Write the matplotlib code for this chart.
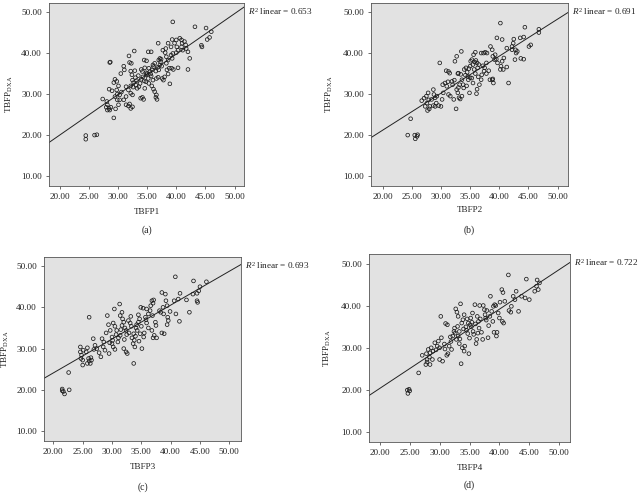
import matplotlib
matplotlib.use("Agg")
import matplotlib.pyplot as plt
import numpy as np

plt.rcParams['font.family'] = ['Liberation Serif', 'DejaVu Serif']
plt.rcParams['mathtext.fontset'] = 'custom'
plt.rcParams['mathtext.rm'] = 'Liberation Serif'
plt.rcParams['mathtext.it'] = 'Liberation Serif:italic'

# ---------------- data ----------------
pts_a = [(24.5,19.9),(24.5,19.0),(26.0,20.0),(26.4,20.1),(27.4,28.8),(28.6,37.7),(28.7,37.8),
 (28.5,31.2),(29.0,30.8),(28.1,28.2),(28.2,27.4),(28.5,26.5),(28.6,26.1),(28.2,26.1),(28.8,26.8),
 (28.0,26.8),(29.3,24.2),(29.6,26.4),(29.5,33.6),(29.8,33.1),(29.3,32.8),(30.1,32.0),(29.8,31.0),
 (30.3,29.8),(29.9,30.0),(29.5,29.4),(30.6,30.5),(30.1,27.4),(29.9,28.6),(30.5,35.0),(31.0,36.8),
 (31.1,35.9),(31.4,29.4),(31.0,28.6),(31.4,27.4),(31.8,27.1),(32.0,27.6),(31.8,31.0),(31.4,31.8),
 (32.2,32.0),(31.9,39.3),(32.0,37.7),(32.3,37.5),(32.2,35.6),(32.9,35.7),(32.8,40.5),(32.4,34.7),
 (32.5,33.4),(32.7,32.8),(33.2,33.3),(33.1,32.2),(32.6,31.7),(33.3,31.4),(33.6,31.8),(32.2,30.2),
 (32.5,29.8),(32.5,26.9),(32.2,26.5),(33.8,32.6),(34.0,33.6),(34.3,34.2),(34.2,35.5),(33.9,29.0),
 (34.2,29.2),(34.4,28.7),(34.6,36.4),(34.8,35.2),(34.9,34.7),(35.2,33.8),(34.5,38.3),(34.9,38.1),
 (34.8,33.0),(34.6,31.4),(35.2,40.3),(35.7,40.3),(35.5,35.5),(35.6,34.9),(35.9,35.9),(35.7,34.4),
 (35.3,36.3),(36.0,37.1),(36.3,37.5),(36.1,36.7),(35.3,32.6),(35.8,32.0),(36.1,31.2),(36.3,30.6),
 (36.6,29.8),(36.5,29.2),(36.7,28.7),(36.0,33.4),(36.6,33.8),(36.9,34.1),(37.0,38.3),(37.2,38.7),
 (37.3,37.9),(37.4,38.5),(37.2,37.1),(36.9,42.4),(36.5,35.6),(37.0,35.9),(37.6,33.8),(37.8,33.4),
 (38.0,34.2),(37.7,40.7),(38.1,40.1),(38.2,41.1),(38.3,39.1),(38.6,38.3),(38.3,37.5),(38.4,35.9),
 (38.8,36.3),(38.6,34.9),(38.9,32.5),(39.1,39.5),(39.3,38.7),(39.4,39.9),(39.2,36.3),(39.5,36.0),
 (39.4,47.6),(39.3,43.3),(39.7,42.4),(40.0,43.2),(40.1,41.5),(40.3,40.7),(40.0,40.1),(40.3,36.4),
 (40.6,43.6),(40.9,43.2),(41.0,42.4),(40.9,41.5),(41.1,40.7),(41.4,42.8),(41.6,42.0),(41.7,41.1),
 (42.0,40.3),(42.0,36.0),(42.3,38.7),(43.2,46.4),(44.3,41.9),(44.4,41.5),(45.1,46.1),(45.3,43.3),
 (45.7,43.8),(46.0,45.2),(39.1,41.5),(38.6,42.4),(30.3,28.6),(33.5,34.5),(34.0,36.0),(35.0,35.0),
 (36.8,36.5),(37.5,36.8),(33.0,34.0),(34.5,33.2)]

pts_b = [(24.3,20.0),(25.5,20.0),(25.9,19.7),(25.6,19.1),(26.0,20.1),(24.8,24.0),(26.7,28.4),
 (27.1,29.0),(27.3,27.0),(27.6,27.8),(27.9,28.6),(27.7,26.0),(28.0,26.4),(28.1,27.0),(27.5,29.5),
 (27.8,30.3),(28.7,31.1),(28.4,28.7),(28.8,29.9),(29.0,29.1),(29.3,29.5),(29.2,27.8),(29.6,27.2),
 (28.7,27.2),(29.0,27.0),(29.8,37.6),(30.0,27.0),(30.2,28.7),(30.4,30.3),(30.3,32.3),(30.9,35.7),
 (31.3,35.5),(31.5,35.1),(30.7,32.7),(31.0,31.9),(31.3,29.9),(31.6,29.5),(31.9,33.1),(32.0,32.3),
 (32.2,28.7),(32.4,38.0),(32.7,39.2),(32.9,35.0),(33.0,35.1),(32.6,26.4),(32.7,31.1),(32.9,30.3),
 (33.2,32.3),(33.1,29.1),(33.6,29.5),(33.3,28.8),(33.5,40.4),(33.6,33.5),(33.8,32.3),(33.9,31.5),
 (34.0,36.0),(34.3,36.4),(34.5,35.3),(34.6,34.3),(34.7,33.5),(35.0,36.8),(35.1,38.0),(35.3,38.4),
 (35.5,37.2),(35.3,33.9),(35.5,32.7),(35.7,36.0),(35.9,35.0),(34.9,30.3),(36.1,30.1),(36.2,31.2),
 (35.6,39.6),(35.9,40.2),(36.2,37.6),(36.5,37.2),(36.3,36.4),(36.6,32.3),(36.9,33.5),(37.0,34.7),
 (36.9,40.0),(37.3,40.0),(37.6,40.2),(37.9,40.0),(37.2,36.9),(37.5,36.4),(37.8,37.6),(37.8,35.0),
 (38.2,35.7),(38.4,33.5),(38.5,41.6),(38.8,40.8),(38.9,39.2),(39.2,38.4),(38.8,33.5),(39.0,32.7),
 (38.9,33.7),(39.3,39.6),(39.5,38.5),(39.7,37.6),(39.6,43.7),(40.2,47.3),(40.5,43.3),(40.3,36.8),
 (40.7,36.0),(40.2,36.0),(40.5,38.0),(40.8,38.8),(41.3,41.2),(41.6,32.7),(41.3,36.6),(42.2,41.6),
 (42.4,42.4),(42.5,43.4),(42.2,40.8),(42.8,40.8),(42.9,40.0),(42.7,38.4),(43.1,40.4),(43.6,43.7),
 (44.2,43.9),(44.4,46.3),(43.7,38.7),(44.2,38.5),(45.1,41.6),(45.4,42.0),(46.8,45.8),(46.8,45.0),
 (34.2,34.6),(35.0,34.0),(35.8,37.8),(36.0,38.2),(34.8,36.2),(33.4,34.8),(32.3,33.4),(31.2,33.0),
 (36.4,34.2),(37.4,35.6),(34.4,32.0),(33.0,31.6)]

pts_c = [(21.5,20.2),(21.7,19.6),(21.9,19.0),(21.5,19.8),(22.7,20.0),(22.6,24.2),(24.6,30.4),
 (24.6,29.2),(24.8,28.4),(24.7,27.6),(25.0,26.0),(25.0,27.2),(25.1,29.6),(25.6,29.2),(25.8,30.2),
 (26.0,27.6),(26.1,27.0),(26.3,26.4),(25.8,26.4),(26.4,27.8),(26.5,27.2),(26.8,32.4),(27.1,30.8),
 (27.4,30.0),(26.9,29.8),(26.1,37.6),(28.1,28.0),(28.3,32.4),(28.5,30.4),(28.8,29.6),(29.2,38.0),
 (29.4,35.8),(29.7,34.4),(29.0,33.8),(29.5,28.8),(30.0,32.8),(30.0,31.2),(30.2,30.4),(30.5,29.8),
 (30.1,32.0),(30.4,39.6),(30.5,35.4),(30.8,34.4),(30.2,36.2),(31.1,32.6),(31.4,33.2),(31.0,31.6),
 (31.3,40.8),(31.4,38.0),(31.7,38.8),(31.8,37.2),(32.0,36.4),(31.7,35.6),(32.2,35.0),(32.4,34.4),
 (32.5,33.4),(32.1,32.2),(32.4,29.2),(32.6,28.8),(32.0,30.0),(32.8,36.8),(33.1,36.2),(33.3,35.4),
 (33.7,26.4),(33.4,32.6),(33.7,33.6),(33.8,32.0),(33.6,31.2),(33.9,30.4),(34.1,35.0),(34.2,35.8),
 (34.3,34.4),(34.5,38.2),(34.7,37.2),(34.5,36.4),(35.1,30.0),(34.9,40.0),(35.3,39.8),(34.8,33.6),
 (35.4,32.8),(35.5,33.8),(35.7,37.6),(35.8,37.0),(35.9,36.2),(35.9,39.6),(36.2,38.4),(36.5,39.2),
 (36.6,40.4),(36.8,41.6),(37.1,41.8),(37.0,41.0),(36.8,34.4),(37.0,32.6),(37.2,33.2),(37.4,36.4),
 (37.5,35.6),(37.6,32.6),(38.1,39.2),(38.3,38.8),(38.5,43.6),(38.7,40.0),(38.8,38.4),(38.5,33.8),
 (38.9,33.6),(39.1,43.2),(39.2,41.6),(39.4,40.4),(39.5,37.6),(39.6,36.8),(39.4,35.8),(39.9,39.0),
 (40.6,41.6),(40.8,47.4),(40.9,38.4),(41.3,42.0),(41.6,43.4),(41.5,36.6),(42.7,41.8),(43.2,38.8),
 (43.9,46.4),(43.8,43.2),(44.5,43.4),(44.8,44.0),(44.5,41.6),(44.6,41.2),(45.0,45.0),(46.1,46.2),
 (31.5,34.6),(32.9,33.8),(34.0,33.0),(35.0,35.4),(36.2,35.0),(30.7,33.4),(29.6,31.4),(36.9,38.0),
 (33.2,37.8),(34.6,31.8),(28.6,31.6),(27.8,29.0)]

pts_d = [(24.6,20.0),(24.9,20.2),(24.7,19.2),(25.0,19.8),(26.5,24.1),(27.1,28.3),(27.7,26.1),
 (27.9,27.3),(27.8,28.7),(28.1,29.7),(28.4,28.9),(28.3,27.9),(27.9,26.7),(28.4,26.1),(28.8,27.3),
 (28.6,30.1),(29.2,31.3),(28.9,29.3),(29.6,30.5),(29.8,31.7),(30.0,30.1),(30.3,32.5),(30.0,27.3),
 (30.5,26.9),(30.2,37.6),(30.9,29.8),(31.0,35.9),(31.3,35.6),(31.2,28.3),(31.4,28.7),(31.6,30.5),
 (31.8,32.7),(32.0,29.7),(32.2,32.9),(32.4,34.0),(32.5,34.8),(32.7,39.4),(32.9,38.6),(33.1,37.6),
 (32.8,32.1),(33.1,32.9),(33.3,31.1),(33.4,32.2),(33.5,40.6),(33.6,26.3),(33.8,30.1),(34.1,29.3),
 (33.7,36.0),(33.9,36.8),(34.1,38.0),(34.4,35.1),(34.5,34.3),(34.7,33.5),(34.8,36.0),(34.2,30.5),
 (34.9,28.7),(35.1,35.6),(35.3,35.1),(35.2,37.2),(35.5,38.4),(35.6,34.0),(35.7,33.3),(35.9,40.4),
 (36.2,32.1),(36.1,31.1),(36.3,37.6),(36.5,36.4),(36.7,40.2),(36.6,34.8),(37.2,32.1),(37.0,33.8),
 (37.3,40.2),(37.5,39.2),(37.6,38.0),(37.7,37.2),(37.8,36.7),(38.1,32.5),(38.5,42.4),(38.4,37.6),
 (38.7,38.8),(38.9,36.4),(39.0,40.0),(39.2,40.4),(39.4,40.2),(39.1,33.8),(39.6,33.8),(39.5,32.9),
 (39.8,38.4),(40.0,37.2),(40.1,41.0),(40.4,44.0),(40.6,43.3),(40.5,36.4),(40.7,36.0),(40.9,41.2),
 (41.5,47.5),(41.6,39.0),(41.9,38.6),(42.0,40.0),(42.3,42.4),(42.8,43.6),(42.6,41.6),(43.2,38.8),
 (43.7,42.4),(44.3,42.0),(44.5,46.5),(45.0,41.6),(45.9,43.6),(46.2,44.8),(46.3,46.3),(46.7,45.6),
 (46.5,44.0),(33.0,35.2),(34.0,34.6),(34.6,37.0),(35.4,36.2),(36.0,35.8),(36.8,37.0),(32.6,33.6),
 (31.9,31.6),(30.8,31.0),(29.4,29.6),(37.9,39.0),(38.2,35.4),(35.0,32.4),(36.4,33.6),(33.3,34.0)]

panel_x_labels = ['TBFP1', 'TBFP2', 'TBFP3', 'TBFP4']
panel_tags = ['(a)', '(b)', '(c)', '(d)']
r2_values = [0.653, 0.691, 0.693, 0.722]
fit_slopes = [0.988, 0.902, 0.821, 0.946]
fit_intercepts = [0.22, 3.16, 7.69, 1.48]
x_ticks = [20.0, 25.0, 30.0, 35.0, 40.0, 45.0, 50.0]
y_ticks = [10.0, 20.0, 30.0, 40.0, 50.0]
panels = [pts_a, pts_b, pts_c, pts_d]

# ---------------- layout ----------------
W, H = 639, 494
fig = plt.figure(figsize=(W / 100, H / 100), dpi=100)
fig.patch.set_facecolor('white')

# axes boxes in pixels: left, right, top, bottom
boxes = [(49, 244, 3, 186), (371, 568, 3, 186), (44, 241, 257, 441), (369, 570, 254, 442)]
xlims = [(18.2, 51.6), (18.0, 51.8), (18.4, 52.0), (18.2, 51.8)]
ylims = [(7.6, 52.2), (7.6, 52.2), (7.6, 52.2), (7.6, 52.5)]
xlabel_y = [212, 210, 467, 468]
tag_y = [230, 230, 487, 485]
ylabel_x = [9, 329, 5, 327]

fs = 6.6
for i, pts in enumerate(panels):
    l, r, t, b = boxes[i]
    ax = fig.add_axes([l / W, 1 - b / H, (r - l) / W, (b - t) / H])
    ax.set_facecolor('#e2e2e2')
    xs = np.array([p[0] for p in pts])
    ys = np.array([p[1] for p in pts])
    ax.scatter(xs, ys, s=7, facecolors='none', edgecolors='#1a1a1a', linewidths=0.55, zorder=3)
    x0, x1 = xlims[i]
    lx = np.array([x0, x1])
    ax.plot(lx, fit_intercepts[i] + fit_slopes[i] * lx, color='#222222', lw=0.7, zorder=2)
    ax.set_xlim(x0, x1)
    ax.set_ylim(*ylims[i])
    ax.set_xticks(x_ticks)
    ax.set_yticks(y_ticks)
    ax.set_xticklabels([f'{v:.2f}' for v in x_ticks], fontsize=fs)
    ax.set_yticklabels([f'{v:.2f}' for v in y_ticks], fontsize=fs)
    ax.tick_params(direction='out', length=2.5, width=0.5, pad=2.5, colors='#333333', labelcolor='#222222')
    for sp in ax.spines.values():
        sp.set_linewidth(0.6)
        sp.set_color('#555555')
    cx = (l + r) / 2
    fig.text(cx / W, 1 - xlabel_y[i] / H, panel_x_labels[i], fontsize=fs, ha='center', va='center', color='#222222')
    fig.text(cx / W, 1 - tag_y[i] / H, panel_tags[i], fontsize=fs + 0.4, ha='center', va='center', color='#222222')
    fig.text(ylabel_x[i] / W, 1 - ((t + b) / 2) / H, r'TBFP$_{\mathrm{DXA}}$', fontsize=fs,
             rotation=90, ha='center', va='center', color='#222222')
    fig.text((r + 4) / W, 1 - (t + 3) / H, r'$R^2$ linear = ' + f'{r2_values[i]:.3f}', fontsize=fs,
             ha='left', va='top', color='#222222')

fig.savefig('out.png', dpi=100)
